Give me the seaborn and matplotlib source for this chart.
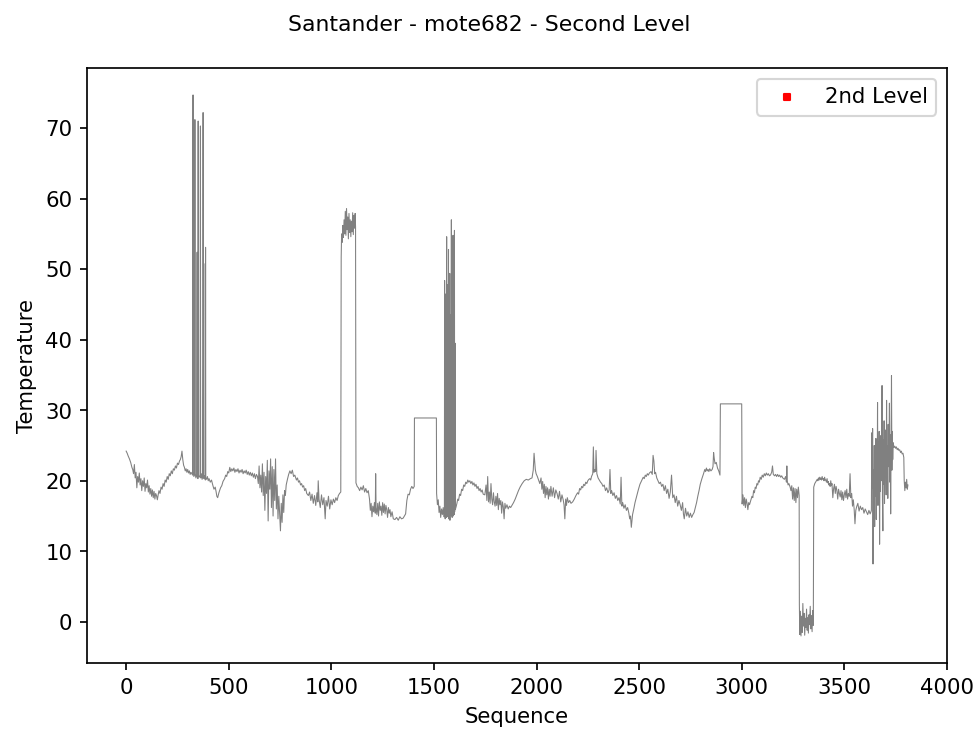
import matplotlib
matplotlib.use("Agg")
import matplotlib.pyplot as plt
import pandas as pd
import seaborn as sns

TITLE = "Santander - mote682 - Second Level"
X_LABEL = "Sequence"
Y_LABEL = "Temperature"
LEGEND_LABEL = "2nd Level"

# (sequence, temperature) readings, by region of the series
seg_start = [(0,24.2),(5,23.9),(10,23.5),(16,23.1),(22,22.6),(28,21.9),(32,21.6),(36,21.0),(40,22.3),(44,20.4),
             (48,21.2),(52,19.0),(56,20.6),(60,19.8),(64,21.1),(68,19.4),(72,20.3),(76,18.6),(80,20.0),(84,19.2),
             (88,20.4),(92,18.5),(96,19.6),(100,19.0),(104,20.1),(108,18.4),(112,19.3),(116,18.1),(120,18.9),(124,17.8),
             (128,18.7),(132,17.6),(136,18.5),(140,17.4),(144,18.2),(148,17.9),(152,17.3),(156,18.0),(160,18.6),(165,18.2),
             (170,19.1),(175,18.8),(180,19.6),(185,19.2),(190,20.1),(195,19.8),(200,20.6),(205,20.2),(210,21.0),(215,20.7),
             (220,21.4),(225,21.0),(230,21.7),(235,21.5),(240,22.1),(245,21.8),(250,22.5),(255,22.3),(260,22.8),(264,23.0),
             (268,23.4),(272,24.2),(276,23.0),(280,22.2),(284,21.9),(288,21.4),(292,21.7),(296,21.2),(300,21.6),(304,21.1),
             (308,21.4),(312,20.9),(316,21.2)]

seg_spikes1 = [(320,21.0),(324,20.8),(325,53.1),(326,74.7),(327,21.2),(330,20.6),(334,20.9),(335,71.2),(336,21.0),(340,20.4),
               (344,20.8),(346,52.4),(347,20.6),(350,20.3),(351,71.0),(352,20.9),(356,20.5),(360,20.7),(361,52.0),(362,70.3),
               (363,20.4),(366,21.0),(370,20.2),(374,20.6),(375,72.2),(376,20.5),(378,50.8),(379,20.3),(382,20.7),(386,20.1),
               (387,53.1),(388,20.4),(392,20.2),(396,20.6),(400,20.0)]

seg_mid1 = [(404,20.3),(410,19.8),(416,20.1),(422,19.4),(428,18.8),(434,19.1),(438,18.5),(442,17.8),(446,17.6),(452,18.3),
            (460,19.0),(466,19.3),(472,19.9),(480,20.3),(485,20.8),(490,20.6),(495,21.3),(500,21.1),(505,21.9),(510,21.3),
            (515,21.7),(520,21.4),(525,21.8),(530,21.2),(535,21.6),(540,21.3),(545,21.7),(550,21.1),(555,21.5),(560,21.2),
            (565,21.6),(570,21.0),(575,21.4),(580,21.1),(585,21.5),(590,20.9),(595,21.3),(600,20.8),(605,21.2),(610,20.7),
            (615,21.1),(620,20.5),(625,21.0),(630,20.3),(635,20.9),(640,20.6)]

seg_noisy1 = [(644,19.6),(648,22.1),(652,19.0),(656,20.8),(660,18.4),(664,22.4),(668,17.9),(672,21.2),(676,15.8),(680,20.6),
              (684,18.2),(688,22.9),(692,14.3),(696,21.4),(700,18.8),(704,23.1),(708,16.2),(712,22.0),(716,15.0),(720,21.6),
              (724,17.2),(728,23.1),(732,16.0),(736,19.4),(740,14.6),(744,17.8),(748,15.2),(752,12.9),(756,16.8),(760,14.1),
              (764,18.0),(768,15.5),(772,18.6),(776,17.9),(780,19.4)]

seg_mid2 = [(786,20.2),(792,20.9),(798,21.4),(804,21.0),(810,21.5),(816,20.6),(822,20.8),(830,20.1),(835,20.4),(840,19.8),
            (845,20.0),(850,19.4),(855,19.6),(860,19.1),(865,19.3),(870,18.6),(875,18.9),(880,18.2),(888,17.9),(894,18.4),
            (900,17.2),(906,18.1),(912,16.8),(918,17.9),(924,16.5),(930,18.3),(934,17.0),(936,20.0),(940,17.4),(946,16.2),
            (952,18.0),(958,16.6),(964,17.6),(968,15.6),(970,14.6),(974,17.2),(980,16.4),(986,17.8),(992,16.0),(998,17.3),
            (1004,16.6),(1010,17.4),(1016,16.9),(1022,17.6),(1028,17.2),(1034,17.9),(1040,18.2),(1046,18.4)]

seg_plateau = [(1048,51.7),(1050,55.0),(1053,53.8),(1056,56.2),(1059,54.5),(1062,57.0),(1065,55.0),(1068,58.2),(1071,54.8),
               (1074,58.6),(1077,55.6),(1080,57.4),(1083,54.3),(1086,57.9),(1089,55.2),(1092,57.0),(1095,54.6),(1098,56.8),
               (1101,55.3),(1104,58.0),(1107,54.9),(1110,57.6),(1113,55.8),(1116,57.9),(1118,56.0)]

seg_mid3 = [(1120,19.7),(1126,19.2),(1132,19.0),(1138,18.6),(1144,19.1),(1150,18.7),(1156,19.3),(1162,18.4),(1168,18.9),(1174,18.3),
            (1180,18.6),(1186,17.4),(1190,15.8),(1194,16.8),(1198,14.9),(1202,16.4),(1206,15.6),(1210,16.9),(1214,15.4),(1216,21.0),
            (1218,16.2),(1222,15.2),(1226,16.8),(1230,15.0),(1234,17.0),(1238,15.8),(1242,16.4),(1246,15.1),(1250,16.9),(1254,15.5),
            (1258,16.7),(1262,15.3),(1266,16.5),(1270,15.9),(1274,14.8),(1278,16.2),(1282,15.4),(1286,15.9),(1290,14.9),(1296,15.6),
            (1302,14.6),(1310,14.5),(1318,14.8),(1326,14.4),(1334,14.9),(1342,14.6),(1350,14.7),(1356,15.0),(1362,15.3),(1368,17.2),
            (1374,18.1),(1380,18.0),(1386,18.8),(1392,19.2),(1398,18.9),(1404,19.2)]

seg_box1 = [(1405,28.9),(1512,28.9)]

seg_pre_spikes2 = [(1513,18.2),(1517,16.6),(1521,17.3),(1525,15.5),(1529,16.4),(1533,14.8),(1537,16.0),(1541,15.2),(1545,16.2),
                   (1549,14.9)]

seg_spikes2 = [(1551,15.0),(1552,48.4),(1553,15.4),(1555,14.6),(1556,44.0),(1557,15.2),(1559,46.5),(1560,14.8),(1562,54.6),
               (1563,15.6),(1565,42.0),(1566,14.9),(1568,47.8),(1569,15.3),(1571,52.8),(1572,14.6),(1574,45.0),(1575,15.8),
               (1577,49.4),(1578,14.4),(1580,43.5),(1581,15.1),(1583,30.0),(1584,15.5),(1585,57.0),(1586,15.2),(1589,14.8),
               (1590,40.0),(1591,15.4),(1593,54.8),(1594,15.0),(1597,16.1),(1599,15.2),(1600,55.5),(1601,15.6),(1603,39.5),
               (1604,15.9),(1608,16.3)]

seg_waves1 = [(1612,16.8),(1616,17.4),(1620,17.2),(1625,18.1),(1630,17.9),(1635,18.8),(1640,18.6),(1645,19.4),(1650,19.2),(1655,19.8),
              (1660,19.6),(1665,20.1),(1670,19.8),(1675,20.0),(1680,19.6),(1685,19.9),(1690,19.4),(1695,19.7),(1700,19.2),(1705,19.5),
              (1710,18.9),(1715,19.2),(1720,18.6),(1725,18.9),(1730,18.4),(1735,18.7),(1740,18.1),(1748,18.0),(1754,19.4),(1758,17.2),
              (1762,20.6),(1766,17.0),(1770,18.4),(1774,16.8),(1778,19.6),(1782,17.4),(1786,16.6),(1790,18.3),(1794,17.0),(1798,16.4),
              (1802,17.8),(1806,16.5),(1810,18.2),(1814,15.9),(1818,17.5),(1822,16.6),(1826,17.2),(1830,15.4),(1834,17.0),(1838,16.3),
              (1842,14.6),(1846,16.8),(1850,16.1),(1856,16.6),(1862,16.0),(1868,16.4),(1874,16.2),(1880,16.5),(1888,16.9),(1896,17.4),
              (1904,18.0),(1912,18.6),(1920,19.1),(1930,19.6),(1940,20.0),(1950,20.2),(1960,20.1),(1970,20.3),(1978,20.4),(1984,21.5),
              (1988,23.9),(1991,22.8),(1994,21.6),(1998,21.0),(2004,20.6),(2010,20.1),(2016,19.6),(2022,20.4),(2026,18.8),(2030,19.9),
              (2034,18.2),(2038,19.5),(2042,17.6),(2046,19.2),(2050,18.0),(2054,19.0),(2058,17.4),(2062,18.8),(2066,17.8)]

seg_waves2 = [(2070,19.2),(2076,17.8),(2082,19.0),(2088,17.6),(2094,18.7),(2100,18.2),(2106,17.4),(2112,18.5),(2118,17.0),(2124,18.0),
              (2130,17.3),(2134,16.6),(2138,14.6),(2142,17.4),(2146,16.5),(2150,17.6),(2156,16.9),(2162,17.2),(2168,16.8),(2176,17.0),
              (2184,17.4),(2192,17.9),(2200,18.3),(2205,18.1),(2210,18.9),(2215,18.7),(2220,19.2),(2225,19.0),(2230,19.5),(2235,19.3),
              (2240,19.8),(2245,19.6),(2250,20.0),(2255,20.2),(2260,20.3),(2264,20.1),(2268,20.6),
              (2274,21.0),(2277,24.8),(2280,21.2),(2284,21.6),(2288,21.3),(2290,24.3),(2294,21.0),(2300,20.4),(2306,20.1),(2312,19.8),
              (2318,19.6),(2324,19.2),(2330,19.4),(2336,18.6),(2342,19.0),(2348,18.3),(2354,18.7),(2358,21.6),(2362,18.2),(2366,18.6),
              (2372,17.9),(2378,18.3),(2384,17.5),(2390,17.9),(2396,17.2),(2402,17.6),(2408,16.7),(2412,20.5),(2416,16.4),(2420,16.9),
              (2426,16.1),(2432,16.6),(2438,15.8),(2444,16.2),(2450,15.4),(2454,14.6),(2458,15.0),(2462,13.4),(2468,15.2),(2474,16.0),
              (2480,16.9),(2488,17.8),(2496,18.7),(2504,19.5),(2512,20.0),(2520,20.5),(2525,20.3),(2530,20.8),(2535,20.6),(2540,21.0),
              (2545,20.8),(2550,21.1),(2558,21.3),
              (2564,20.9),(2568,23.6),(2572,22.8),(2576,21.0),(2580,21.2),(2586,20.4),(2592,20.0),(2598,19.6),(2604,19.8),(2610,19.2),
              (2616,19.5),(2622,18.6),(2628,19.3),(2634,18.2),(2640,18.8),(2646,17.5),(2652,18.4),(2658,20.8),(2664,17.6),(2670,18.0),
              (2676,16.9),(2682,17.8),(2688,16.4),(2694,17.2),(2700,16.6),(2706,15.8),(2712,16.9),(2716,15.3),(2720,14.6),(2726,16.1),
              (2732,15.0),(2738,15.6),(2744,14.8),(2750,15.4),(2756,14.8),(2762,15.2),(2768,15.5),(2774,16.2),(2780,16.9),(2786,17.8),
              (2792,18.6),(2798,19.5),(2806,20.3),(2814,21.0)]

seg_box2 = [(2820,21.6),(2824,21.3),(2828,21.8),(2832,21.4),(2836,21.6),(2840,21.3),(2844,21.7),(2850,21.4),(2856,21.6),
            (2860,22.0),(2863,24.0),(2866,23.2),(2870,22.4),(2876,22.6),(2882,21.8),(2888,21.4),(2892,21.0),(2894,20.8),
            (2896,30.9),(3000,30.9)]

seg_waves3 = [(3002,16.7),(3006,18.0),(3010,16.5),(3014,17.6),(3018,16.2),(3022,17.4),(3026,16.8),(3030,15.9),(3034,16.9),(3038,16.6),
              (3044,17.2),(3050,17.8),(3054,17.6),(3058,18.6),(3062,18.3),(3066,19.1),(3070,18.9),(3074,19.6),(3078,19.4),(3082,20.0),
              (3086,19.8),(3090,20.5),(3095,20.2),(3100,20.8),(3105,20.5),(3110,21.0),(3115,20.7),(3120,21.1),(3125,20.8),(3130,21.0),
              (3135,20.7),(3140,20.8),(3146,21.2),(3150,22.1),(3154,20.9),(3160,20.7),(3165,20.9),(3170,20.6),(3175,20.9),(3180,20.6),
              (3185,20.8),(3190,20.5),(3195,20.7),(3200,20.4),(3208,20.2),(3214,20.6),(3218,19.8),(3220,22.1),(3222,20.0),(3226,19.4),
              (3230,19.6),(3236,19.1),(3240,18.6),(3244,19.3),(3248,17.4),(3252,19.0),(3256,17.2),(3260,18.9),(3264,16.9),(3268,18.8),
              (3272,17.6),(3276,19.1),(3280,17.9)]

seg_low = [(3281,2.5),(3283,-1.8),(3286,1.5),(3289,-2.0),(3292,0.8),(3295,-1.5),(3298,2.6),(3301,-0.6),(3304,1.2),(3307,-1.9),
           (3310,0.5),(3313,-0.8),(3316,1.8),(3319,-1.2),(3322,0.6),(3325,-1.6),(3328,1.0),(3331,-0.4),(3334,2.2),(3337,-1.0),
           (3340,0.9),(3343,-1.4),(3346,1.6),(3349,-0.5)]

seg_waves4 = [(3351,19.1),(3356,19.6),(3362,19.9),(3368,20.2),(3371,20.0),(3374,20.4),(3377,20.1),(3380,20.5),(3383,20.2),(3386,20.4),
              (3389,20.1),(3392,20.6),(3395,20.2),(3398,20.3),(3401,20.0),(3404,20.5),(3407,20.1),(3410,20.1),(3413,19.8),(3416,20.3),
              (3419,19.7),(3422,19.9),(3425,19.4),(3428,19.6),(3431,19.2),(3434,20.0),(3437,19.3),(3440,19.6),(3444,17.6),(3448,18.9),
              (3452,19.5),(3456,18.2),(3460,19.2),(3464,18.6),(3468,17.4),(3472,18.8),(3476,18.2),(3480,17.7),(3484,18.6),(3488,17.3),
              (3492,18.4),(3496,17.2),(3500,18.0),(3504,18.6),(3508,17.6),(3512,18.8),(3516,17.4),(3520,18.2),(3524,17.8),(3528,21.0),
              (3532,17.6),(3536,18.2),(3540,16.4),(3544,17.3),(3548,16.0),(3552,13.9),(3556,15.8),(3560,16.3),(3566,16.8),(3572,15.7),
              (3578,16.4),(3584,15.9),(3590,16.2),(3596,15.4),(3602,16.0),(3608,15.6),(3614,15.2),(3620,15.8),(3626,15.3),(3630,15.6)]

seg_noisy_end = [(3632,15.8),(3634,26.8),(3636,19.0),(3638,27.4),(3640,8.2),(3642,21.5),(3644,16.0),(3646,25.0),(3648,13.5),
                 (3650,24.5),(3652,17.8),(3654,26.0),(3656,14.5),(3658,22.8),(3660,18.0),(3662,31.1),(3664,16.5),(3666,25.5),
                 (3668,19.2),(3670,27.0),(3672,11.0),(3674,23.0),(3676,18.5),(3678,26.4),(3680,20.0),(3682,24.2),(3684,33.5),
                 (3686,17.2),(3688,12.9),(3690,25.8),(3692,19.5),(3694,28.5),(3696,16.8),(3698,26.0),(3700,20.5),(3702,27.2),
                 (3704,18.0),(3706,31.4),(3708,21.0),(3710,25.0),(3712,17.5),(3714,28.0),(3716,22.0),(3718,25.5),(3720,31.0),
                 (3722,19.8),(3724,26.5),(3726,15.3),(3728,24.8),(3730,34.9),(3732,21.5),(3734,27.0),(3736,23.0),(3738,25.4)]

seg_tail = [(3742,24.7),(3746,24.9),(3750,24.6),(3754,24.8),(3758,24.4),(3762,24.6),(3766,24.3),(3770,24.4),(3774,24.0),(3778,24.2),
            (3782,23.8),(3786,23.9),(3790,23.3),(3792,20.0),(3795,18.6),(3798,19.8),(3801,19.0),(3804,20.2),(3807,18.8),(3810,19.4)]

# detected "2nd level" anomalies: none in this series
anomaly_seq = []
anomaly_temp = []

segments = [seg_start, seg_spikes1, seg_mid1, seg_noisy1, seg_mid2, seg_plateau, seg_mid3, seg_box1,
            seg_pre_spikes2, seg_spikes2, seg_waves1, seg_waves2, seg_box2, seg_waves3, seg_low,
            seg_waves4, seg_noisy_end, seg_tail]
seq = [p[0] for s in segments for p in s]
temp = [p[1] for s in segments for p in s]
df = pd.DataFrame({X_LABEL: seq, Y_LABEL: temp})

DPI = 153
fig, ax = plt.subplots(figsize=(978.3 / DPI, 733.3 / DPI), dpi=DPI)
sns.lineplot(data=df, x=X_LABEL, y=Y_LABEL, color="grey", linewidth=0.5,
             estimator=None, sort=False, ax=ax)
ax.scatter(anomaly_seq, anomaly_temp, color="red", marker="s", s=8, label=LEGEND_LABEL)
ax.legend(loc="upper right")
ax.set_xlabel(X_LABEL)
ax.set_ylabel(Y_LABEL)
fig.suptitle(TITLE, fontsize=10.3)
fig.subplots_adjust(left=0.089, right=0.968, top=0.907, bottom=0.0955)
fig.savefig("out.png", dpi=DPI)
